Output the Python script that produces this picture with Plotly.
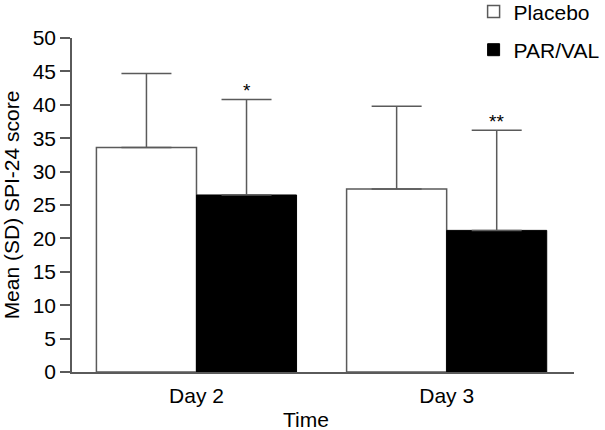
import plotly.graph_objects as go

days = ["Day 2", "Day 3"]
placebo_mean = [33.6, 27.4]
placebo_sd = [11.1, 12.4]
parval_mean = [26.5, 21.2]
parval_sd = [14.3, 15.0]
parval_marks = ["*", "**"]

FONT = "Liberation Sans, Arial, sans-serif"
GREY = "#5a5a5a"

fig = go.Figure()

fig.add_trace(go.Bar(
    x=days,
    y=placebo_mean,
    name="Placebo",
    marker=dict(color="white", line=dict(color=GREY, width=1.5)),
    error_y=dict(type="data", array=placebo_sd, arrayminus=[0, 0], symmetric=False,
                 color=GREY, thickness=1.5, width=25),
    legendgroup="a",
))

fig.add_trace(go.Bar(
    x=days,
    y=parval_mean,
    name="PAR/VAL",
    marker=dict(color="black", line=dict(color="black", width=1)),
    error_y=dict(type="data", array=parval_sd, arrayminus=[0, 0], symmetric=False,
                 color=GREY, thickness=1.5, width=25),
    legendgroup="b",
))

# significance marks above PAR/VAL error bars
for i, mark in enumerate(parval_marks):
    fig.add_annotation(
        x=i + 0.2, y=parval_mean[i] + parval_sd[i],
        text=mark, showarrow=False, yanchor="bottom", yshift=-4,
        font=dict(size=19, color="black", family=FONT),
    )

fig.add_annotation(
    x=0.466, xref="paper", y=0, yref="paper", yanchor="top", yshift=-34,
    text="Time", showarrow=False,
    font=dict(size=21, color="black", family=FONT),
)

fig.update_layout(
    width=605,
    height=430,
    margin=dict(l=72, r=31, t=38, b=58, autoexpand=False),
    paper_bgcolor="white",
    plot_bgcolor="white",
    font=dict(family=FONT, size=21, color="black"),
    barmode="group",
    bargap=0.2,
    bargroupgap=0,
    legend=dict(
        x=0.80, y=1.14, xanchor="left", yanchor="top",
        font=dict(size=21),
        tracegroupgap=8,
        traceorder="grouped",
        bgcolor="rgba(0,0,0,0)",
    ),
    xaxis=dict(
        range=[-0.4976, 1.509],
        showline=True, linecolor=GREY, linewidth=1.5,
        ticks="", showgrid=False, zeroline=False,
        ticklabelstandoff=4, automargin=False,
    ),
    yaxis=dict(
        range=[0, 50],
        tickvals=list(range(0, 51, 5)),
        showline=True, linecolor=GREY, linewidth=1.5,
        ticks="outside", ticklen=10, tickcolor=GREY, tickwidth=1.5,
        showgrid=False, zeroline=False, automargin=False,
        title=dict(text="Mean (SD) SPI-24 score", font=dict(size=21), standoff=10),
    ),
)

# the page's default body margin would push the figure 8px right and down
fig.write_html("out.html", config={"displayModeBar": False},
               post_script="document.body.style.margin = '0';")
